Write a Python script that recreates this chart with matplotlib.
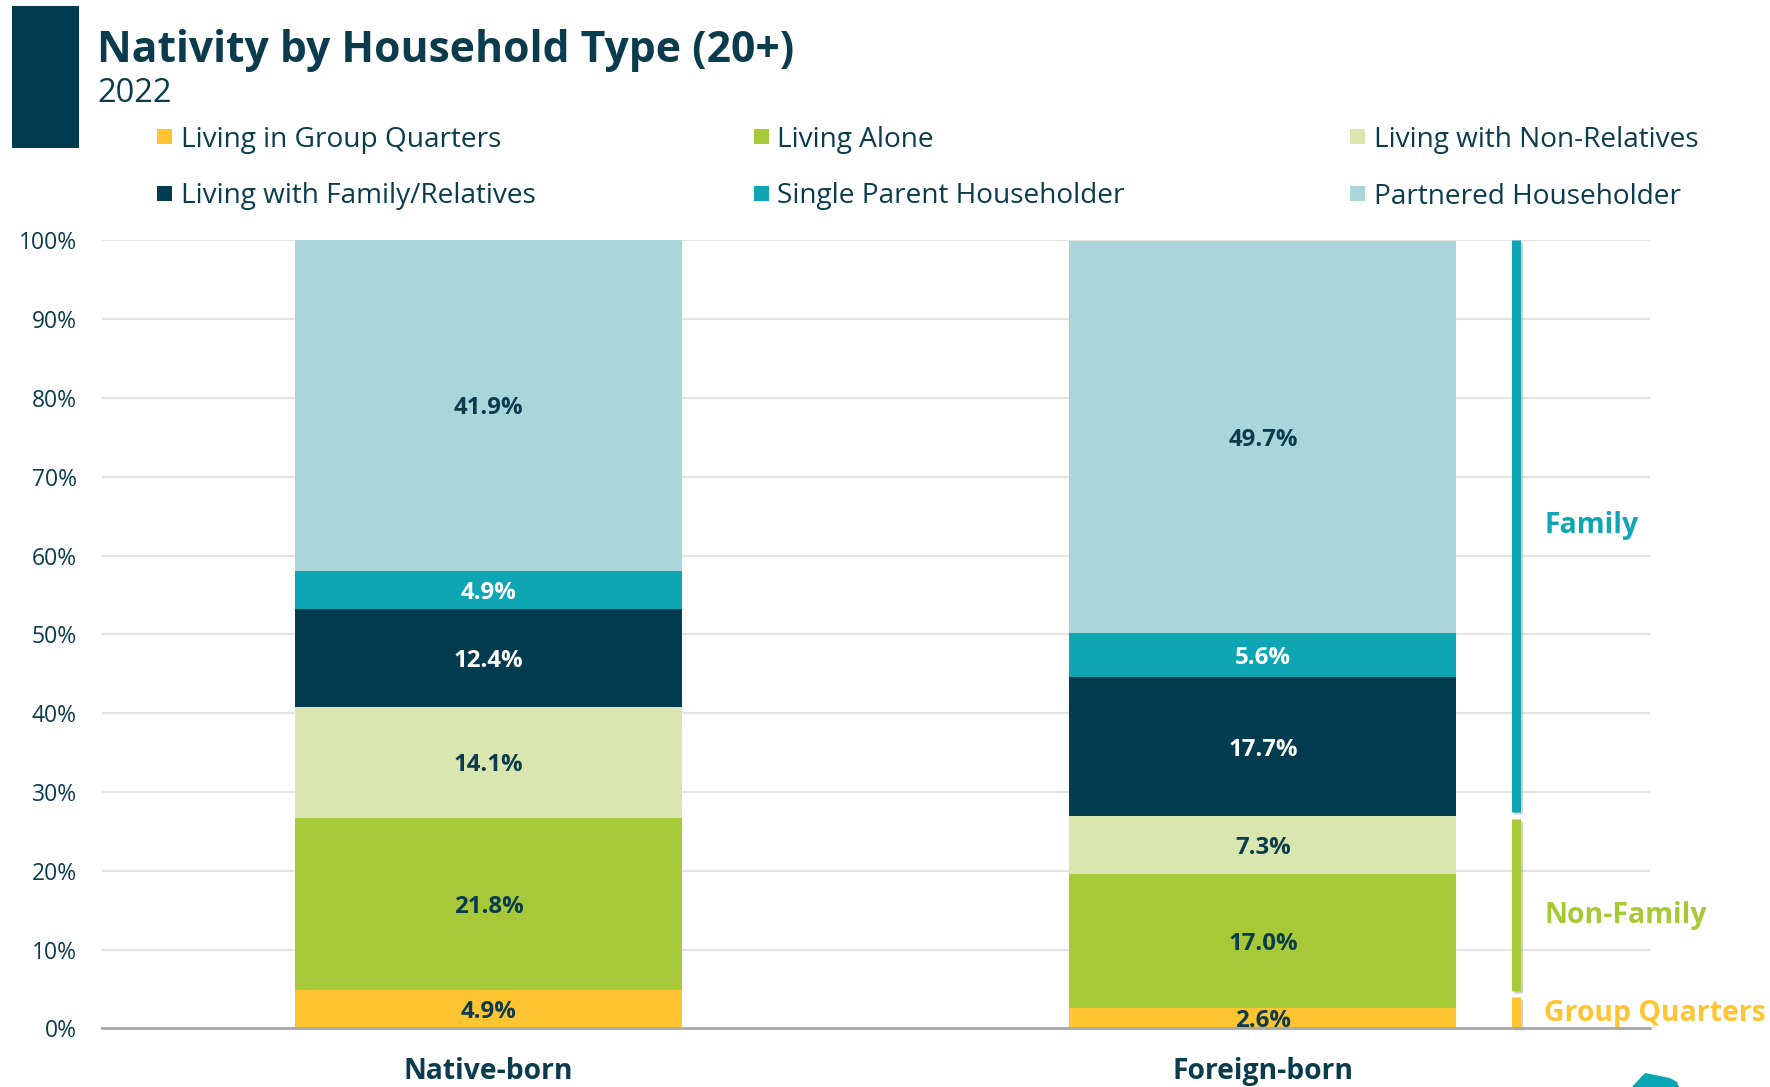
import matplotlib
matplotlib.use("Agg")
import matplotlib.pyplot as plt
import matplotlib.patheffects as pe
from matplotlib.patches import Rectangle, Polygon
import numpy as np

# ---- data ----
categories = ["Native-born", "Foreign-born"]
series_names = ["Living in Group Quarters", "Living Alone", "Living with Non-Relatives",
                "Living with Family/Relatives", "Single Parent Householder", "Partnered Householder"]
group_quarters = [4.9, 2.6]
living_alone = [21.8, 17.0]
non_relatives = [14.1, 7.3]
family_relatives = [12.4, 17.7]
single_parent = [4.9, 5.6]
partnered = [41.9, 49.7]
yticks = [0, 10, 20, 30, 40, 50, 60, 70, 80, 90, 100]
ytick_labels = ["0%", "10%", "20%", "30%", "40%", "50%", "60%", "70%", "80%", "90%", "100%"]
bracket_names = ["Group Quarters", "Non-Family", "Family"]
bracket_spans = [(0, 4.0), (4.7, 26.6), (27.5, 100)]
bracket_label_y = [2.3, 14.8, 64.3]

# ---- styles ----
colors = ["#FEC432", "#A8C937", "#D9E6AF", "#033C4F", "#0FA6B4", "#AAD5DB"]
label_colors = ["#0B3C4E", "#0B3C4E", "#0B3C4E", "white", "white", "#0B3C4E"]
bracket_colors = ["#FEC432", "#A8C937", "#0FA6B4"]
dark = "#0B3C4E"
FONT = ["Open Sans", "DejaVu Sans"]
plt.rcParams["font.family"] = FONT

W, H = 1770, 1087
fig = plt.figure(figsize=(W / 100, H / 100), dpi=100)
ax = fig.add_axes([101.6 / W, 58.6 / H, 1548.4 / W, 788 / H])

series = [group_quarters, living_alone, non_relatives, family_relatives, single_parent, partnered]
x = np.arange(len(categories))
bottom = np.zeros(len(categories))
for vals, col, lc in zip(series, colors, label_colors):
    vals = np.array(vals)
    ax.bar(x, vals, bottom=bottom, width=0.5, color=col, zorder=3, linewidth=0)
    for xi, v, b in zip(x, vals, bottom):
        ax.text(xi, b + v / 2, f"{v:.1f}%", ha="center", va="center_baseline", fontsize=17.3,
                fontweight="bold", color=lc, zorder=4)
    bottom = bottom + vals

ax.set_xlim(-0.5, 1.5)
ax.set_ylim(0, 100)
ax.set_yticks(yticks)
ax.set_yticklabels(ytick_labels)
ax.set_xticks(x)
ax.set_xticklabels(categories, fontweight="bold", fontsize=20.3, color=dark)
ax.tick_params(axis="y", length=0, pad=18, labelsize=16.5, labelcolor=dark)
ax.tick_params(axis="x", length=0, pad=20.5)
ax.grid(axis="y", color="#E3E3E3", linewidth=1.5, zorder=0)
for s in ["top", "right", "left"]:
    ax.spines[s].set_visible(False)
ax.spines["bottom"].set_color("#A8A8A8")
ax.spines["bottom"].set_linewidth(2)
ax.spines["bottom"].set_zorder(5)

# brackets
bx = 1.3274
for (lo, hi), name, col, ly in zip(bracket_spans, bracket_names, bracket_colors, bracket_label_y):
    ax.plot([bx, bx], [lo, hi], color=col, linewidth=6.5, solid_capstyle="butt", clip_on=False,
            zorder=4, path_effects=[pe.SimpleLineShadow(offset=(1.5, -1.5), shadow_color="gray", alpha=0.35),
                                    pe.Normal()])
    ax.text(1.3636, ly, name, ha="left", va="center_baseline", fontsize=20.4, fontweight="bold", color=col,
            clip_on=False)

# header
fig.add_artist(Rectangle((12 / W, (H - 148) / H), 67 / W, 142 / H, transform=fig.transFigure,
                         color="#033C4F", linewidth=0))
fig.text(97 / W, (H - 62) / H, "Nativity by Household Type (20+)", fontsize=30.7, fontweight="bold",
         color=dark, va="baseline", ha="left")
fig.text(97 / W, (H - 101.6) / H, "2022", fontsize=23.5, color=dark, va="baseline", ha="left")

# legend (manual, row-major)
col_x = [157, 753.5, 1350]
row_y = [136.6, 193]
for i, (name, col) in enumerate(zip(series_names, colors)):
    r, c = divmod(i, 3)
    mx, my = col_x[c], row_y[r]
    fig.add_artist(Rectangle((mx / W, (H - my - 7.5) / H), 15 / W, 15 / H, transform=fig.transFigure,
                             color=col, linewidth=0))
    fig.text((mx + 23.6) / W, (H - my) / H, name, fontsize=20.2, color=dark, va="center_baseline",
             ha="left")

# corner decoration
pts = np.array([(1632, 1087), (1645, 1073), (1670, 1078), (1677, 1082), (1679, 1087)], dtype=float)
pts[:, 0] /= W
pts[:, 1] = (H - pts[:, 1]) / H
fig.add_artist(Polygon(pts, closed=True, transform=fig.transFigure, color="#0AA5B3", linewidth=0))

fig.savefig("out.png", dpi=100, facecolor="white")
